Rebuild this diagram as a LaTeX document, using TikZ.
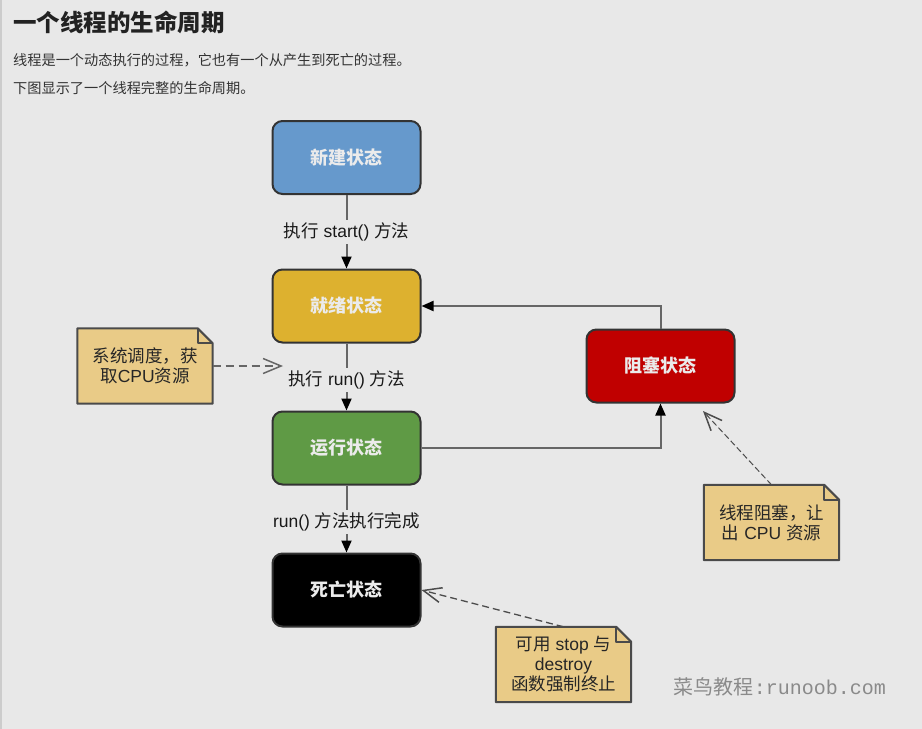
\documentclass[tikz,border=0pt]{standalone}
\usepackage{fontspec}
\setmainfont{Noto Sans CJK SC}
\newfontfamily\latinsans{Liberation Sans}
\newfontfamily\monofont{Liberation Mono}
\newcommand\lat[1]{{\latinsans #1}}
\usetikzlibrary{arrows.meta,backgrounds}
\definecolor{bgc}{HTML}{E8E8E8}
\definecolor{linegray}{HTML}{666666}
\definecolor{notefill}{HTML}{E9CB87}
\definecolor{noteline}{HTML}{4A4A4A}
\definecolor{cnew}{HTML}{6699CC}
\definecolor{cready}{HTML}{DDB12F}
\definecolor{crun}{HTML}{5F9A45}
\definecolor{cblock}{HTML}{C00000}
\definecolor{titlec}{HTML}{222222}
\definecolor{bodyc}{HTML}{333333}
\definecolor{markc}{HTML}{8A8A8A}
\begin{document}
\begin{tikzpicture}[x=1pt,y=-1pt,
  state/.style={draw=black!80, line width=2pt, rounded corners=10pt,
    minimum width=148pt, minimum height=73pt, inner sep=0pt,
    text=white!92!black, font=\fontsize{18}{20}\selectfont\bfseries},
  flow/.style={draw=linegray, line width=2pt,
    -{Triangle[width=10pt,length=12pt,black]}},
  flowlabel/.style={fill=bgc, inner sep=3pt, text=black!90,
    font=\fontsize{17.5}{20}\selectfont},
  note/.style={minimum width=135pt, minimum height=75pt, inner sep=0pt,
    align=center, text=black!85, font=\fontsize{17.5}{20}\selectfont},
  notebox/.style={fill=notefill, draw=noteline, line width=2pt, line join=round},
  hint/.style={draw=black!70, dashed, dash pattern=on 8pt off 5pt,
    -{Straight Barb[length=18pt,width=15pt,line width=1.5pt]}},
]
\useasboundingbox (0,0) rectangle (922,729);

% titles
\node[anchor=west, text=titlec, font=\fontsize{23.5}{26}\selectfont\bfseries, inner sep=0pt] (title) at (13,22) {一个线程的生命周期};
\node[anchor=west, text=bodyc, font=\fontsize{14.2}{16}\selectfont, inner sep=0pt] (line1) at (13,60) {线程是一个动态执行的过程，它也有一个从产生到死亡的过程。};
\node[anchor=west, text=bodyc, font=\fontsize{14.2}{16}\selectfont, inner sep=0pt] (line2) at (13,88) {下图显示了一个线程完整的生命周期。};

% states
\node[state, fill=cnew] (new) at (346.5,157.5) {新建状态};
\node[state, fill=cready] (ready) at (346.5,306) {就绪状态};
\node[state, fill=crun] (run) at (346.5,448) {运行状态};
\node[state, fill=black] (dead) at (346.5,590) {死亡状态};
\node[state, fill=cblock] (block) at (660.5,366) {阻塞状态};

% flows
\draw[flow] (new) -- node[flowlabel] {执行\lat{ start() }方法} (ready);
\draw[flow] (ready) -- node[flowlabel, yshift=-3pt] {执行\lat{ run() }方法} (run);
\draw[flow] (run) -- node[flowlabel, yshift=-3pt] {\lat{run() }方法执行完成} (dead);
\draw[flow] (run.east) -| (block.south);
\draw[flow] (block.north) |- (ready.east);

% notes
\node[note] (n1) at (145,366) {系统调度，获\\取\lat{CPU}资源};
\node[note] (n2) at (771.5,522.5) {线程阻塞，让\\出\lat{ CPU }资源};
\node[note] (n3) at (563.5,664.5) {可用\lat{ stop }与\\\lat{destroy}\\函数强制终止};

\begin{scope}[on background layer]
  \fill[bgc] (0,0) rectangle (922,729);
  \fill[black!20] (0,0) rectangle (2,729);
  \foreach \n in {n1,n2,n3} {
    \draw[notebox] (\n.south west) -- (\n.north west)
      -- ([xshift=-15pt]\n.north east) -- ([yshift=-15pt]\n.north east)
      -- (\n.south east) -- cycle;
    \draw[draw=noteline, line width=2pt, line join=round]
      ([xshift=-15pt]\n.north east) -- ([xshift=-15pt,yshift=-15pt]\n.north east)
      -- ([yshift=-15pt]\n.north east);
  }
\end{scope}

\coordinate (c1) at (283,366);
\coordinate (c2) at (703,411);
\draw[hint, line width=2.2pt, draw=black!60] (n1.east) -- (c1);
\draw[hint, line width=1pt, dash pattern=on 6pt off 3pt] (n2.north) -- (c2);
\draw[hint, line width=1.3pt, dash pattern=on 7pt off 4pt] (n3.north) -- (dead.east);

% watermark
\node[text=markc, font=\fontsize{20}{22}\selectfont, inner sep=0pt] (mark) at (780,687) {菜鸟教程\monofont :runoob.com};
\end{tikzpicture}
\end{document}
